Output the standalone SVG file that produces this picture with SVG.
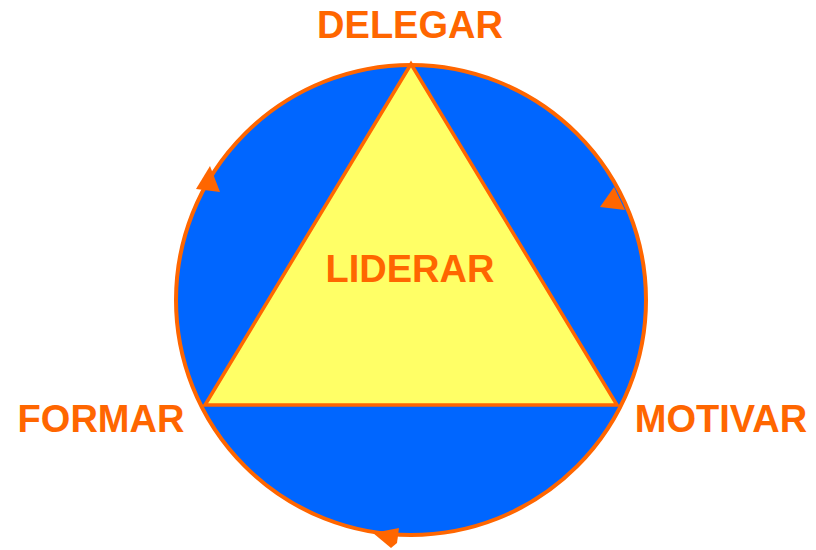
<svg xmlns="http://www.w3.org/2000/svg" width="816" height="550" viewBox="0 0 816 550">
<style>
.lbl{font-family:"Liberation Sans",Arial,sans-serif;font-weight:bold;font-size:38px;fill:#FF6600}
.arr{fill:#FF6600}
</style>
<rect width="816" height="550" fill="#ffffff"/>
<g id="cycle">
<circle cx="411" cy="300" r="235" fill="#0066FF" stroke="#FF6600" stroke-width="4"/>
</g>
<g id="connectors">
<polygon class="arr" points="210,166 196,189 220,192"/>
<polygon class="arr" points="614,187 600,207 625,210"/>
<polygon class="arr" points="373,533 399,528 397,543 391,548"/>
</g>
<g id="liderar">
<polygon points="411,64 205,405 617,405" fill="#FFFF66" stroke="#FF6600" stroke-width="3.5" stroke-linejoin="miter"/>
<text class="lbl" x="410" y="282" text-anchor="middle">LIDERAR</text>
</g>
<g id="delegar"><text class="lbl" x="410" y="38" text-anchor="middle">DELEGAR</text></g>
<g id="formar"><text class="lbl" x="101" y="432" text-anchor="middle">FORMAR</text></g>
<g id="motivar"><text class="lbl" x="721" y="432" text-anchor="middle">MOTIVAR</text></g>
</svg>
